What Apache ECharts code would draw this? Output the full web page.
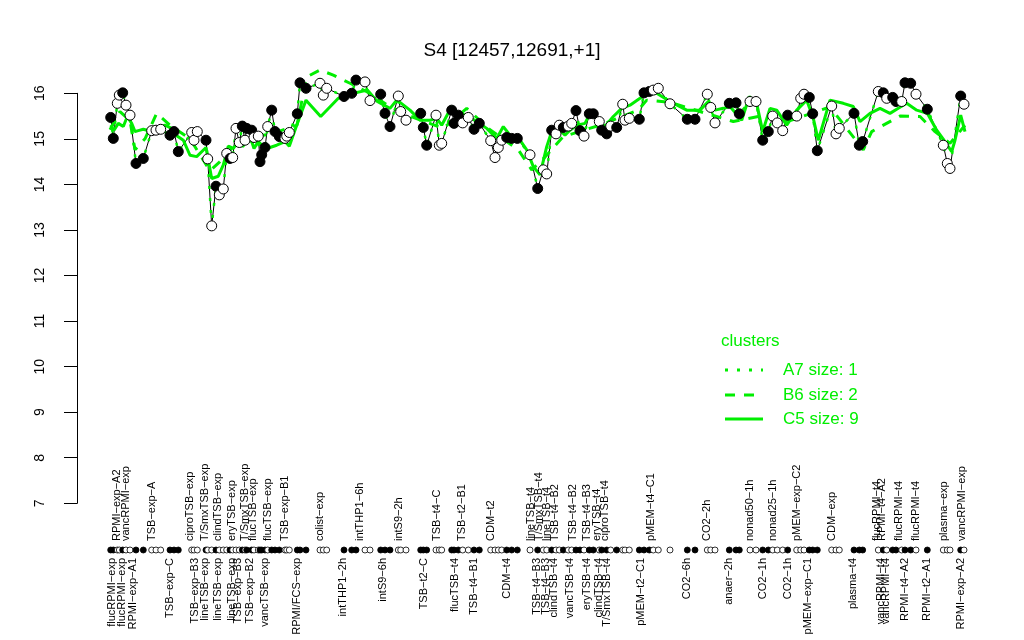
<!DOCTYPE html>
<html><head><meta charset="utf-8">
<script src="https://cdn.jsdelivr.net/npm/echarts@6/dist/echarts.min.js"></script>
<style>html,body{margin:0;padding:0;background:#fff}#c{width:1024px;height:640px}</style>
</head><body><div id="c"></div>
<script>
const chartTitle = 'S4 [12457,12691,+1]';
const yMin = 7, yMax = 16, yStep = 1;
const xMin = 77, xMax = 996;

// sample positions along the x axis, expression values, filled (1) / open (0)
const pos = [110.7,113.3,117.3,119.3,122.7,126,130,136,143.3,151.7,
156,160.7,170,174,178.3,191.7,194,197.3,206,207.7,
211.7,216,219.3,223.3,226.7,230,232.7,236,239.3,242.3,
245,246.7,251.7,254,258.3,260,261.7,265,267.7,271.7,
275,279.3,285,286.7,289.3,297.3,300,306,320,323.3,
326.7,344,351.7,356,365,370,380.7,385,390,398.3,
400.7,406,420.7,423.3,426.7,436,439.3,441.7,451.7,454,
458.3,462.7,468.3,474,479.3,490.7,495,498.3,501.7,506.7,
511.7,517.3,530,537.7,543.3,546.7,551.7,556,559.3,563.3,
568.3,571.7,576,580,584,589.3,593.3,599.3,601.7,606.7,
610.7,616.7,622.7,625,629.3,639.3,644,649.3,653.3,658.3,
670,687.3,695,707.3,710.7,715,729.3,736,739.3,750,
756,762.7,768.3,772.7,777.3,782.7,787.7,796.7,800.7,804,
809.3,812.7,817.3,831.7,836,839.3,854,859.3,862.7,878.3,
883.3,886.7,892.7,896,901.7,905,910.7,916,927.3,943.3,
947.3,950,960.7,964];
const vals = [15.47,15.01,15.78,15.96,16.01,15.74,15.52,14.46,14.57,15.18,
15.19,15.21,15.08,15.16,14.72,15.14,14.97,15.16,14.97,14.56,
13.09,13.96,13.77,13.90,14.68,14.57,14.59,15.23,14.92,15.28,
14.97,15.23,15.19,15.03,15.06,14.50,14.65,14.81,15.27,15.63,
15.16,15.05,15.01,15.06,15.14,15.55,16.23,16.11,16.22,15.96,
16.11,15.93,16.00,16.29,16.25,15.84,15.98,15.56,15.27,15.94,
15.60,15.41,15.56,15.25,14.86,15.52,14.86,14.90,15.63,15.34,
15.52,15.35,15.47,15.21,15.34,14.96,14.59,14.81,14.97,15.03,
15.01,15.01,14.65,13.91,14.32,14.23,15.19,15.11,15.30,15.25,
15.28,15.34,15.62,15.18,15.06,15.55,15.55,15.38,15.19,15.11,
15.28,15.25,15.76,15.41,15.45,15.43,16.01,16.04,16.07,16.11,
15.77,15.43,15.43,15.98,15.69,15.35,15.78,15.79,15.55,15.82,
15.82,14.97,15.16,15.50,15.35,15.18,15.52,15.50,15.89,15.98,
15.91,15.55,14.74,15.72,15.11,15.23,15.56,14.86,14.94,16.04,
16.01,15.89,15.91,15.82,15.82,16.23,16.22,15.98,15.65,14.86,
14.46,14.35,15.94,15.76];
const filled = [1,1,0,0,1,0,0,1,1,0,
0,0,1,1,1,0,0,0,1,0,
0,1,0,0,0,1,0,0,0,1,
0,1,1,0,0,1,1,1,0,1,
1,1,0,0,0,1,1,1,0,0,
0,1,1,1,0,0,1,1,1,0,
0,0,1,1,1,0,0,0,1,1,
1,0,0,1,1,0,0,0,0,1,
1,1,0,1,0,0,1,0,0,1,
0,0,1,1,0,1,1,0,1,1,
0,1,0,0,0,1,1,1,0,0,
0,1,1,0,0,0,1,1,1,0,
0,1,1,0,0,0,1,0,0,0,
1,1,1,0,0,0,1,1,1,0,
1,0,1,1,0,1,1,0,1,0,
0,0,1,0];

// cluster C5 (solid) profile
const c5Pos = [110.7,114,118.3,123.3,127.3,131.7,135,138.3,143.3,151.7,165,171.7,176,183.3,190,196.7,206,211.7,218.3,223.3,228.3,233.3,238.3,242.7,246.7,251.7,254,258.3,263.3,270,276.7,285,289.3,296.7,306,320.7,338.3,353.3,367.3,377.3,390,396.7,
400,410,420,430,436.7,441.7,451.7,458.3,466.7,480,486.7,496.7,503.3,510,518.3,526.7,533.3,540,546.7,551.7,558.3,565,570,576.7,585,590,600,605,613.3,621.7,630,640,646.7,656.7,670,686.7,
700,708.3,715,723.3,730,741.7,749.3,756.7,762.7,770,776.7,786.7,796.7,806.7,813.3,818.3,830,843.3,853.3,860,870,880,890,898.3,906.7,916.7,927.3,936.7,944,951.7,955,960.7,965];
const c5Vals = [15.30,15.19,15.34,15.27,15.49,15.34,15.16,15.18,15.21,15.16,15.30,15.23,15.08,14.97,14.64,14.61,14.81,14.13,14.18,14.43,14.84,14.79,14.94,14.83,14.97,14.94,14.79,14.94,14.83,14.81,14.86,14.94,14.84,15.30,15.85,15.49,15.89,16.00,16.07,15.82,15.67,15.85,
15.80,15.63,15.41,15.41,15.45,15.30,15.71,15.56,15.52,15.33,15.23,15.01,15.27,15.08,15.03,14.76,14.39,14.21,14.83,15.16,15.23,15.08,15.19,15.30,15.34,15.56,15.38,15.27,15.49,15.67,15.74,15.89,16.00,16.00,15.82,15.63,
15.63,15.82,15.63,15.67,15.71,15.41,15.93,15.78,15.16,15.67,15.63,15.30,15.63,15.85,15.45,14.97,15.85,15.78,15.71,15.38,15.56,15.67,15.56,15.67,15.78,15.63,15.56,15.19,14.97,14.72,14.97,15.52,15.16];

// cluster B6 (dashed) profile
const b6Pos = [110,120,130,135,145,156.7,170,190,210,220,240,270,297,306.7,320,333.3,350,370,390,410,443.3,466.7,490,518.3,531.7,545,563.3,600,638.3,646.7,670,700,733.3,760,790,830,863.3,871.7,900,920,935,950,965];
const b6Vals = [15.2,15.6,15.4,14.76,15.0,15.56,15.3,15.0,14.3,14.5,15.0,15.1,15.3,16.36,16.51,16.40,16.22,16.0,15.7,15.5,15.23,15.67,15.2,14.76,14.32,14.6,15.05,15.3,15.63,15.85,15.8,15.6,15.38,15.5,15.4,15.7,14.76,15.16,15.5,15.49,15.16,14.9,15.3];

const topLabels = ['RPMI\u2212exp\u2212A2','vancRPMI\u2212exp','TSB\u2212exp\u2212A','ciproTSB\u2212exp','T/SmxTSB\u2212exp','clindTSB\u2212exp','eryTSB\u2212exp','T/SmxTSB\u2212exp','flucTSB\u2212exp','flucTSB\u2212exp','TSB\u2212exp\u2212B1','colist\u2212exp','intTHP1\u22126h','intS9\u22122h',
'TSB\u2212t4\u2212C','TSB\u2212t2\u2212B1','CDM\u2212t2','lineTSB\u2212t4','T/SmxTSB\u2212t4','lineTSB\u2212t4','TSB\u2212t4\u2212B2','TSB\u2212t4\u2212B2','TSB\u2212t4\u2212B3','eryTSB\u2212t4','ciproTSB\u2212t4','pMEM\u2212t4\u2212C1',
'CO2\u22122h','nonad50\u22121h','nonad25\u22121h','pMEM\u2212exp\u2212C2','CDM\u2212exp','flucRPMI\u2212t4','RPMI\u2212t4\u2212A2','flucRPMI\u2212t4','flucRPMI\u2212t4','plasma\u2212exp','vancRPMI\u2212exp'];
const topLabelPos = [117.3,126,151.7,190,205,218.3,231.7,245,253.3,268.3,285,320,360,399.3,
437.3,461.7,490.7,531,539.3,547.3,555,572.7,587.3,596.7,605,650.7,
706.7,750,773.3,796.7,831.7,877.3,881.7,899.3,916,944,961.7];
const bottomLabels = ['flucRPMI\u2212exp','flucRPMI\u2212exp','RPMI\u2212exp\u2212A1','TSB\u2212exp\u2212C','TSB\u2212exp\u2212B3','lineTSB\u2212exp','lineTSB\u2212exp','lineTSB\u2212exp','TSB\u2212exp\u2212B3','TSB\u2212exp\u2212B2','vancTSB\u2212exp','RPMI/FCS\u2212exp','intTHP1\u22122h','intS9\u22126h',
'TSB\u2212t2\u2212C','flucTSB\u2212t4','TSB\u2212t4\u2212B1','CDM\u2212t4','TSB\u2212t4\u2212B3','TSB\u2212t4\u2212B3','clindTSB\u2212t4','vancTSB\u2212t4','eryTSB\u2212t4','clindTSB\u2212t4','T/SmxTSB\u2212t4','pMEM\u2212t2\u2212C1','CO2\u22126h',
'anaer\u22122h','CO2\u22121h','CO2\u22121h','pMEM\u2212exp\u2212C1','plasma\u2212t4','vancRPMI\u2212t4','vancRPMI\u2212t4','RPMI\u2212t4\u2212A2','RPMI\u2212t2\u2212A1','RPMI\u2212exp\u2212A2'];
const bottomLabelPos = [111.7,121.7,132.7,170,195,205,218.3,231.7,238.3,250,265,296.7,343.3,383.3,
424,455,474,507.3,536.7,546,554,570,586.7,599.3,607.3,640.7,687.3,
729.3,762.7,788.3,808.3,853.3,880.7,886,905,927.3,960.7];

const legendTitle = 'clusters';
const legendItems = ['A7 size: 1','B6 size: 2','C5 size: 9'];

const GREEN = '#00ee00';
const FONT = '"Liberation Sans", Arial, Helvetica, sans-serif';
const chart = echarts.init(document.getElementById('c'), null, {renderer:'canvas'});

const mainPts = pos.map((p,i)=>[p, vals[i]]);
const scatterPts = pos.map((p,i)=>({value:[p, vals[i]], itemStyle:{color: filled[i] ? '#000' : '#fff'}}));
const rowPts = pos.map((p,i)=>({value:[p, 0.5], itemStyle:{color: filled[i] ? '#000' : '#fff'}}));

function labelSeries(texts, positions, up){
  return {
    type:'custom', xAxisIndex:1, yAxisIndex:1, clip:false, silent:true, z:6,
    data: positions.map((p,i)=>[p, 0.5, i]),
    renderItem: function(params, api){
      const pt = api.coord([api.value(0), api.value(1)]);
      return {type:'text', x: pt[0], y: pt[1] + (up ? -9 : 8), rotation: Math.PI/2,
        style:{text: texts[api.value(2)], align: up ? 'left' : 'right', verticalAlign:'middle',
               font: '11px ' + FONT, fill:'#000'}};
    }
  };
}

const legX = 725, legTextX = 783;
const legRows = [370, 395, 419];
const legDash = [[3,9],[10,9],null];

const graphics = [{type:'text', left: 721, top: 333, style:{text: legendTitle, font:'17px ' + FONT, fill: GREEN}}];
legendItems.forEach((t,i)=>{
  graphics.push({type:'line', shape:{x1:legX, y1:legRows[i], x2:legX+38, y2:legRows[i]},
    style:{stroke:GREEN, lineWidth:3, lineDash: legDash[i] || null}});
  graphics.push({type:'text', x: legTextX, y: legRows[i], style:{text:t, font:'17px ' + FONT, fill:GREEN, verticalAlign:'middle'}});
});

chart.setOption({
  animation:false,
  backgroundColor:'#fff',
  title:{text: chartTitle, left:'center', top: 36, textStyle:{fontFamily: FONT, fontSize:19, fontWeight:'normal', color:'#000'}},
  grid:[{left:77, top:93.3, width:919, height:410},
        {left:77, top:540, width:919, height:20}],
  xAxis:[{type:'value', gridIndex:0, min:xMin, max:xMax, show:false},
         {type:'value', gridIndex:1, min:xMin, max:xMax, show:false}],
  yAxis:[{type:'value', gridIndex:0, min:yMin, max:yMax, interval:yStep,
          axisLine:{show:true, lineStyle:{color:'#000', width:1}},
          axisTick:{show:true, length:13, lineStyle:{color:'#000'}},
          splitLine:{show:false},
          axisLabel:{rotate:90, margin:30, color:'#000', fontSize:14, fontFamily:FONT}},
         {type:'value', gridIndex:1, min:0, max:1, show:false}],
  graphic: graphics,
  series:[
    {type:'line', data: mainPts, symbol:'none', z:2, lineStyle:{color:'#000', width:1, opacity:1}, clip:false, silent:true},
    {type:'line', data: mainPts, symbol:'none', z:3, lineStyle:{color:GREEN, width:2.5, type:[3,9]}, clip:false, silent:true},
    {type:'line', data: b6Pos.map((p,i)=>[p,b6Vals[i]]), symbol:'none', z:3, lineStyle:{color:GREEN, width:3, type:[10,9]}, clip:false, silent:true},
    {type:'line', data: c5Pos.map((p,i)=>[p,c5Vals[i]]), symbol:'none', z:3, lineStyle:{color:GREEN, width:3}, clip:false, silent:true},
    {type:'scatter', data: scatterPts, symbol:'circle', symbolSize:10, z:5, clip:false, silent:true,
     itemStyle:{borderColor:'#000', borderWidth:1, opacity:1}},
    {type:'scatter', xAxisIndex:1, yAxisIndex:1, data: rowPts, symbol:'circle', symbolSize:6, z:5, clip:false, silent:true,
     itemStyle:{borderColor:'#000', borderWidth:0.8, opacity:1}},
    labelSeries(topLabels, topLabelPos, true),
    labelSeries(bottomLabels, bottomLabelPos, false)
  ]
});
</script></body></html>
